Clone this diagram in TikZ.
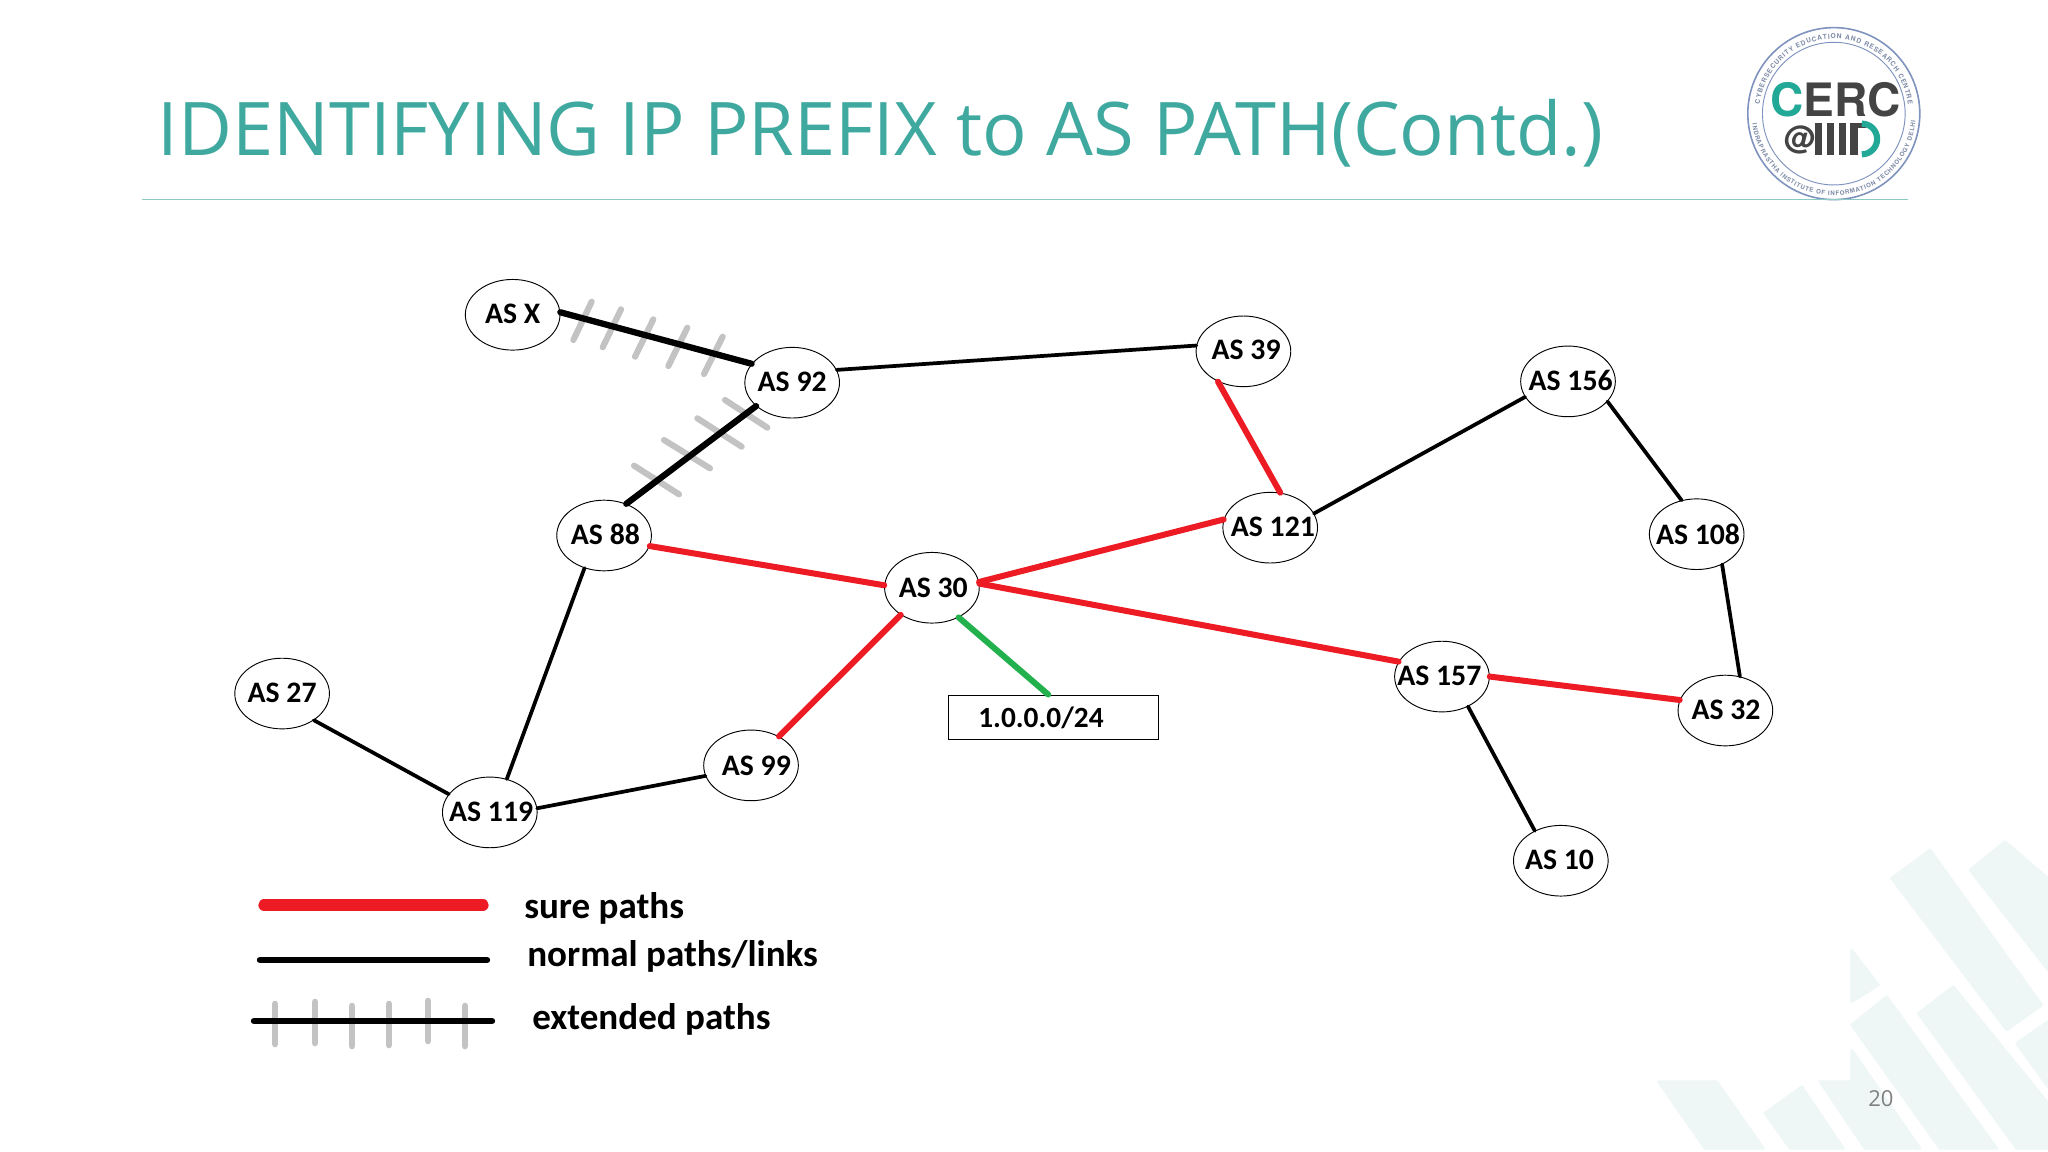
\documentclass[tikz,border=0pt]{standalone}
\usepackage{fontspec}
\setmainfont{Open Sans}
\newfontfamily\lblfont{Carlito}
\newfontfamily\logofont{TeX Gyre Heros}
\usetikzlibrary{shapes.geometric,decorations.text}
\definecolor{titleteal}{HTML}{3FA9A0}
\definecolor{ruleteal}{HTML}{8CCBC4}
\definecolor{wmark}{HTML}{EEF7F6}
\definecolor{surered}{HTML}{ED1C24}
\definecolor{linkgreen}{HTML}{22B14C}
\definecolor{tickgrey}{HTML}{C3C3C3}
\definecolor{logoring}{HTML}{7F93BE}
\definecolor{logotxt}{HTML}{7F8CA8}
\definecolor{logoteal}{HTML}{22A896}
\definecolor{logodark}{HTML}{444444}
\newcommand{\aslbl}[3]{\makebox[0pt]{\hspace*{#1}\raisebox{#2}{#3}}}
\tikzset{
  asnode/.style={ellipse,draw=black,line width=0.7pt,fill=white,minimum width=71pt,minimum height=53pt,inner sep=0pt,font=\lblfont\bfseries\fontsize{22.3}{22.3}\selectfont},
  boxnode/.style={rectangle,draw=black,line width=0.8pt,fill=white,minimum width=158pt,minimum height=33pt,inner sep=0pt},
  boxtext/.style={inner sep=0pt,font=\lblfont\bfseries\fontsize{22}{22}\selectfont},
  legendtext/.style={inner sep=0pt,anchor=base west,font=\lblfont\bfseries\fontsize{27.8}{27.8}\selectfont},
  normal link/.style={draw=black,line width=2.8pt,line cap=round},
  thick link/.style={draw=black,line width=4.7pt,line cap=round},
  sure link/.style={draw=surered,line width=4.5pt,line cap=round},
  green link/.style={draw=linkgreen,line width=4.5pt,line cap=round},
  tick mark/.style={draw=tickgrey,line width=4.6pt,line cap=round},
  wm/.style={fill=wmark,draw=wmark,line width=2pt,line join=round},
  bar/.style={fill=logodark,draw=none},
}
\begin{document}
\begin{tikzpicture}[x=0.97959pt,y=-0.97959pt]
\useasboundingbox (0,0) rectangle (1568,882);
\fill[white] (0,0) rectangle (1568,882);
% watermark, in zoom units
\begin{scope}[x=0.25pt,y=-0.25pt,shift={(4860,2400)}]
\clip (0,0) rectangle (1284,1056);
\fill[wm] (930,150)--(815,235)--(1160,690)--(1265,615)--cycle;
\fill[wm] (1155,125)--(1050,210)--(1284,510)--(1284,235)--cycle;
\fill[wm] (695,450)--(775,555)--(695,605)--cycle;
\fill[wm] (800,590)--(695,675)--(960,1045)--(1130,1045)--cycle;
\fill[wm] (1000,560)--(895,640)--(1190,1045)--(1284,1045)--(1284,910)--cycle;
\fill[wm] (1284,665)--(1190,730)--(1284,860)--cycle;
\fill[wm] (695,750)--(695,845)--(600,845)--(735,1045)--(900,1045)--cycle;
\fill[wm] (545,860)--(435,940)--(510,1045)--(670,1045)--cycle;
\fill[wm] (115,845)--(290,845)--(430,1045)--(255,1045)--cycle;
\end{scope}
% title
\node[anchor=base west,inner sep=0pt,text=titleteal,font=\fontsize{55.5}{55.5}\selectfont] (title) at (120.5,119) {IDENTIFYING IP PREFIX to AS PATH(Contd.)};
% logo
\begin{scope}[shift={(1404,87)},x=1pt,y=1pt]
\draw[logoring,line width=1.2pt,fill=white] (0,0) circle (64.5pt);
\draw[logoring,line width=0.7pt] (0,0) circle (53.5pt);
\path[postaction={decorate},decoration={text along path,text align={fit to path},text={|\logofont\fontsize{5}{5}\selectfont\bfseries\color{logotxt}|CYBERSECURITY EDUCATION AND RESEARCH CENTRE}}]
  (173:56pt) arc (173:7:56pt);
\path[postaction={decorate},decoration={text along path,text align={fit to path},text={|\logofont\fontsize{4.6}{4.6}\selectfont\bfseries\color{logotxt}|INDRAPRASTHA INSTITUTE OF INFORMATION TECHNOLOGY DELHI}}]
  (187:61.5pt) arc (187:355:61.5pt);
\node[anchor=base west,inner sep=0pt,font=\logofont\bfseries\fontsize{34.5}{34.5}\selectfont] (cerc) at (-47.5pt,-2.5pt) {\textcolor{logoteal}{C}\textcolor{logodark}{ERC}};
\node[inner sep=0pt,text=logodark,font=\logofont\bfseries\fontsize{24}{24}\selectfont] (at) at (-26pt,-19.5pt) {@};
\fill[bar] (-14pt,-7pt) rectangle (-8.5pt,-31pt);
\fill[bar] (-5pt,-7pt) rectangle (0.5pt,-31pt);
\fill[bar] (4pt,-7pt) rectangle (9.5pt,-31pt);
\fill[bar] (12.5pt,-7pt) rectangle (18pt,-31pt);
\fill[bar] (12.5pt,-7pt) rectangle (24pt,-11pt);
\draw[logoteal,line width=4.6pt] (21pt,-7.5pt) arc (90:-90:11.5pt);
\end{scope}
% rule
\coordinate (ruleL) at (109,153);
\coordinate (ruleR) at (1461,153);
\draw[ruleteal,line width=0.9pt] (ruleL) -- (ruleR);
% ticks on extended paths, in zoom units
\begin{scope}[x=0.25pt,y=-0.25pt,shift={(1320,780)}]
\draw[tick mark] (455,125)--(400,240);
\draw[tick mark] (543,148)--(488,262);
\draw[tick mark] (640,178)--(585,290);
\draw[tick mark] (742,203)--(685,318);
\draw[tick mark] (848,230)--(792,342);
\draw[tick mark] (855,420)--(982,503);
\draw[tick mark] (772,475)--(905,560);
\draw[tick mark] (672,540)--(810,625);
\draw[tick mark] (582,617)--(717,703);
\end{scope}
% nodes
\node[asnode] (asx) at (392.5,241) {\aslbl{0pt}{1.5pt}{AS X}};
\node[asnode] (as92) at (606.5,293) {\aslbl{0pt}{1.5pt}{AS 92}};
\node[asnode] (as39) at (952,269) {\aslbl{4pt}{3pt}{AS 39}};
\node[asnode] (as156) at (1200.5,292) {\aslbl{4pt}{1.5pt}{AS 156}};
\node[asnode] (as88) at (462.5,410) {\aslbl{2pt}{2pt}{AS 88}};
\node[asnode] (as121) at (972.5,404) {\aslbl{4pt}{1.5pt}{AS 121}};
\node[asnode] (as108) at (1299,409) {\aslbl{2pt}{0pt}{AS 108}};
\node[asnode] (as30) at (713.5,450) {\aslbl{2pt}{-1pt}{AS 30}};
\node[asnode] (as27) at (216,531) {\aslbl{0pt}{1.5pt}{AS 27}};
\node[asnode] (as119) at (375,622) {\aslbl{2pt}{0.5pt}{AS 119}};
\node[asnode] (as99) at (575,586) {\aslbl{8pt}{-0.5pt}{AS 99}};
\node[asnode] (as157) at (1104,518) {\aslbl{-4pt}{1pt}{AS 157}};
\node[asnode] (as32) at (1321,544) {\aslbl{1pt}{1pt}{AS 32}};
\node[asnode] (as10) at (1195,659) {\aslbl{-2pt}{2pt}{AS 10}};
\node[boxnode] (prefix) at (806.5,549) {};
\node[boxtext] (prefixlabel) at (797,550) {1.0.0.0/24};
% connectors
\draw[thick link] (asx.3) -- (as92.155);
\draw[thick link] (as92.213) -- (as88.55);
\draw[normal link] (as92.16) -- (as39.173);
\draw[normal link] (as121.18) -- (as156.200);
\draw[normal link] (as156.-27) -- (as108.114);
\draw[normal link] (as108.-50) -- (as32.67);
\draw[normal link] (as157.-49) -- (as10.131);
\draw[normal link] (as99.193) -- (as119.5);
\draw[normal link] (as88.239) -- (as119.63);
\draw[normal link] (as27.-40) -- (as119.156);
\draw[sure link] (as39.230) -- (as121.74);
\draw[sure link] (as88.-13) -- (as30.177);
\draw[sure link] (as30.7) -- (as121.170);
\draw[sure link] (as30.5) -- (as157.161);
\draw[sure link] (as157.0) -- (as32.167);
\draw[sure link] (as30.221) -- (as99.46);
\draw[green link] (as30.-48) -- (prefix.103);
% legend, in reference pixels
\begin{scope}[x=0.75pt,y=-0.75pt]
\coordinate (la) at (264,905);
\coordinate (lb) at (483,905);
\coordinate (lc) at (260,960);
\coordinate (ld) at (487,960);
\coordinate (le) at (254,1021);
\coordinate (lf) at (492,1021);
\draw[tick mark,line width=5pt] (275,1004)--(275,1044);
\draw[tick mark,line width=5pt] (315,1002)--(315,1043);
\draw[tick mark,line width=5pt] (352,1006)--(352,1046);
\draw[tick mark,line width=5pt] (389,1004)--(389,1045);
\draw[tick mark,line width=5pt] (428,1001)--(428,1041);
\draw[tick mark,line width=5pt] (465,1006)--(465,1046);
\draw[surered,line width=8.5pt,line cap=round] (la) -- (lb);
\draw[black,line width=4.8pt,line cap=round] (lc) -- (ld);
\draw[black,line width=4.8pt,line cap=round] (le) -- (lf);
\node[legendtext] (lt1) at (524,918) {sure paths};
\node[legendtext] (lt2) at (527,966) {normal paths/links};
\node[legendtext] (lt3) at (532,1029) {extended paths};
\end{scope}
\node[inner sep=0pt,text=gray,font=\fontsize{16.5}{16.5}\selectfont] (pagenum) at (1440,841) {20};
\end{tikzpicture}
\end{document}
